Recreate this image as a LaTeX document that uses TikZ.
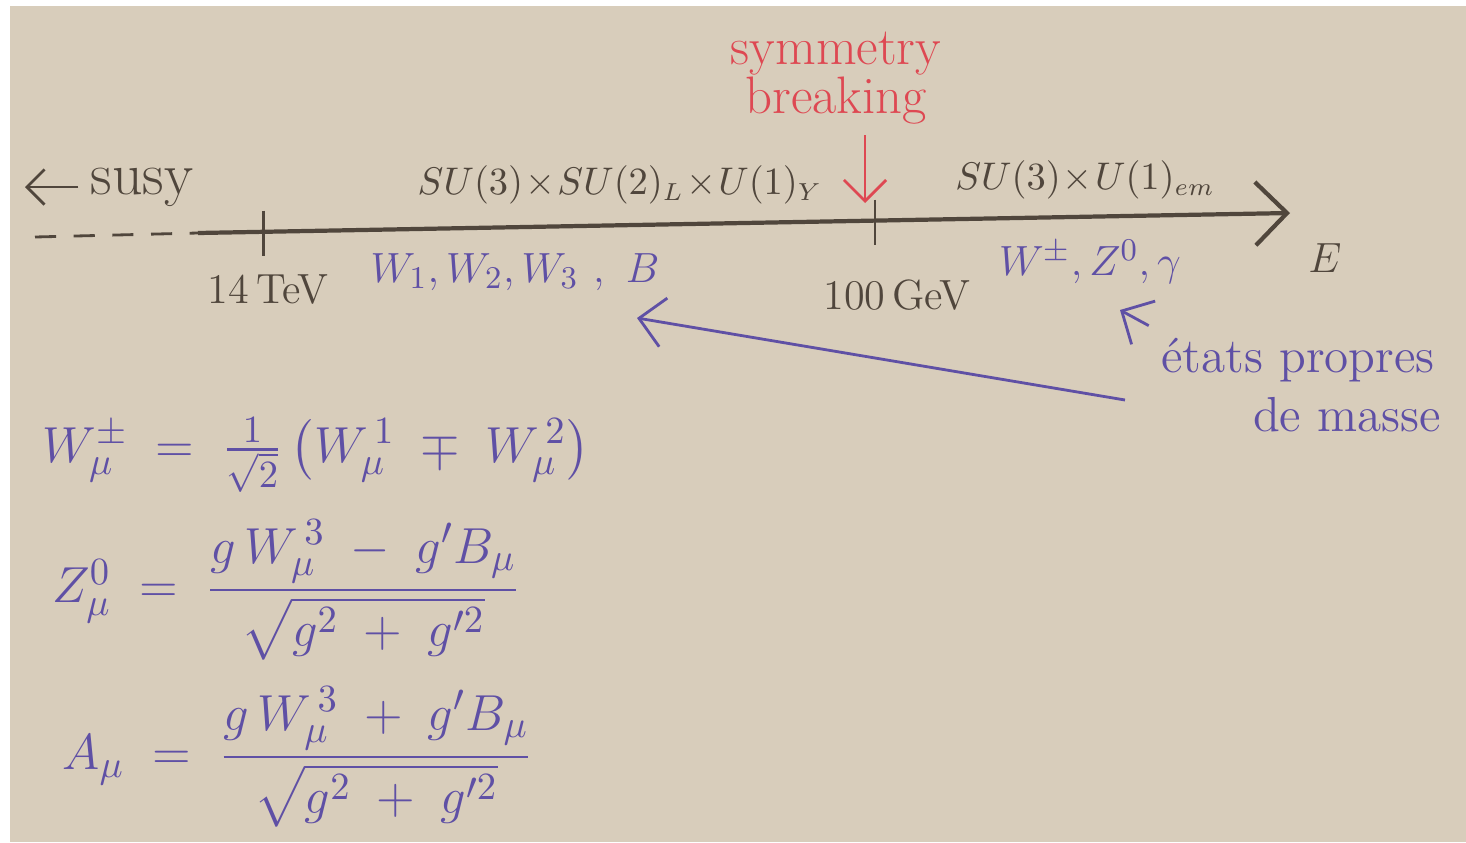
\documentclass[tikz,border=0pt]{standalone}
\usepackage{amsmath}
\usepackage{xcolor}
\usepackage{tikz}
\usetikzlibrary{arrows.meta, positioning}

\definecolor{paper}{RGB}{216,205,187}
\definecolor{pencil}{RGB}{80,70,60}
\definecolor{inkviolet}{RGB}{95,80,165}
\definecolor{inkred}{RGB}{222,72,82}

\begin{document}
\begin{tikzpicture}[
            x=0.01cm, y=-0.01cm,
            axis/.style={draw=pencil, very thick},
            ticks/.style={draw=pencil, thick},
            scalelabel/.style={text=pencil, font=\fontsize{12}{14}\selectfont},
            group/.style={text=pencil, font=\fontsize{10.5}{12}\selectfont},
            boson/.style={text=inkviolet, font=\fontsize{12.5}{15}\selectfont},
            formula/.style={text=inkviolet, anchor=west, font=\fontsize{15}{18}\selectfont},
            note/.style={->, thick, inkviolet, >={Straight Barb[length=7pt]}},
            breakarrow/.style={->, thick, inkred, >={Straight Barb[length=6pt]}}
        ]
            \fill[white] (0,0) rectangle (1466,842);
            \fill[paper] (10,6) rectangle (1466,842);
            \useasboundingbox (0,0) rectangle (1466,842);

            % energy axis
            \coordinate (dashstart) at (35,237);
            \coordinate (axstart) at (198,233);
            \coordinate (axend) at (1290,213);
            \draw[axis, thick, dash pattern=on 6pt off 5pt] (dashstart) -- (axstart);
            \draw[axis, -{Straight Barb[length=9pt]}] (axstart) -- (axend);
            \path (axstart) -- (axend) coordinate[pos=0.06] (tev) coordinate[pos=0.62] (gev);
            \draw[ticks] ([yshift=6pt]tev) -- ([yshift=-7pt]tev);
            \draw[ticks] ([yshift=6pt]gev) -- ([yshift=-7pt]gev);

            \node[scalelabel] (tevlab) at (268,290) {14\,TeV};
            \node[scalelabel] (gevlab) at (897,295) {100\,GeV};
            \node[scalelabel] (energy) at (1325,258) {$E$};

            \node[text=pencil, font=\fontsize{17}{20}\selectfont] (susy) at (142,187) {susy};
            \coordinate (susyend) at (25,187);
            \draw[thick, pencil, ->, >={Straight Barb[length=5pt]}] (susy.west) -- (susyend);

            \node[group] (gut) at (620,185) {$SU(3)\!\times\! SU(2)_L\!\times\! U(1)_Y$};
            \node[group] (emgroup) at (1085,180) {$SU(3)\!\times\! U(1)_{em}$};

            \node[text=inkred, align=center, font=\fontsize{15}{14}\selectfont] (sb) at (836,78) {symmetry\\breaking};
            \coordinate (sbfrom) at (865,135);
            \coordinate (sbto) at (865,203);
            \draw[breakarrow] (sbfrom) -- (sbto);

            \node[boson] (gauge) at (515,272) {$W_1, W_2, W_3\ ,\ B$};
            \node[boson] (mass) at (1090,262) {$W^\pm, Z^0, \gamma$};

            \node[boson, font=\fontsize{14}{16}\selectfont] (propres) at (1298,360) {états propres};
            \node[boson, font=\fontsize{14}{16}\selectfont] (masse) at (1347,415) {de masse};
            \coordinate (masstip) at (1120,310);
            \coordinate (notestart) at (1125,400);
            \coordinate (gaugetip) at (637,318);
            \draw[note] (propres.north west) -- (masstip);
            \draw[note] (notestart) -- (gaugetip);

            \node[formula] (wpm) at (30,455) {$W^\pm_\mu \;=\; \frac{1}{\sqrt{2}}\,\bigl(W_\mu^{\,1} \;\mp\; W_\mu^{\,2}\bigr)$};
            \node[formula] (zzero) at (40,590) {$Z^0_\mu \;=\; \dfrac{g\,W_\mu^{\,3} \;-\; g'B_\mu}{\sqrt{g^2 \;+\; g'^2}}$};
            \node[formula] (photon) at (50,757) {$A_\mu \;=\; \dfrac{g\,W_\mu^{\,3} \;+\; g'B_\mu}{\sqrt{g^2 \;+\; g'^2}}$};
        \end{tikzpicture}
\end{document}
